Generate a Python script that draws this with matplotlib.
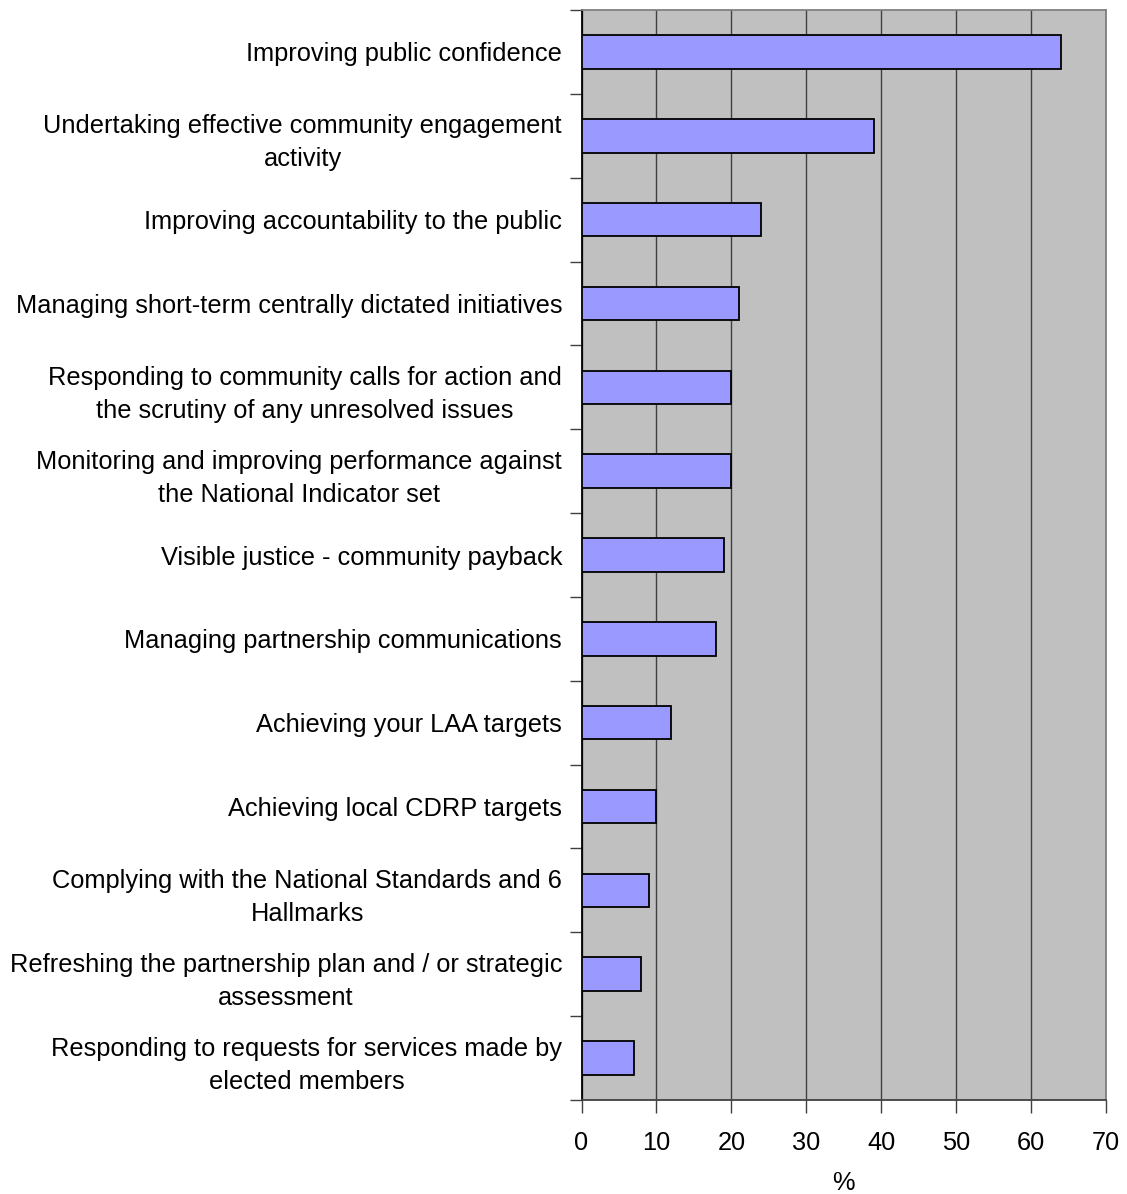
import numpy as np
import matplotlib
matplotlib.use('Agg')
import matplotlib.pyplot as plt
from matplotlib.ticker import FixedLocator, NullFormatter

CATEGORIES = [
    'Improving public confidence',
    'Undertaking effective community engagement\nactivity',
    'Improving accountability to the public',
    'Managing short-term centrally dictated initiatives',
    'Responding to community calls for action and\nthe scrutiny of any unresolved issues',
    'Monitoring and improving performance against\nthe National Indicator set',
    'Visible justice - community payback',
    'Managing partnership communications',
    'Achieving your LAA targets',
    'Achieving local CDRP targets',
    'Complying with the National Standards and 6\nHallmarks',
    'Refreshing the partnership plan and / or strategic\nassessment',
    'Responding to requests for services made by\nelected members',
]
VALUES = [64, 39, 24, 21, 20, 20, 19, 18, 12, 10, 9, 8, 7]
X_TICKS = [0, 10, 20, 30, 40, 50, 60, 70]

BAR_COLOR = '#9999ff'
BG = '#c0c0c0'
FS = 18.3

plt.rcParams['font.family'] = ['Liberation Sans', 'DejaVu Sans']

fig = plt.figure(figsize=(11.27, 11.94), dpi=100)
ax = fig.add_axes([0.516, 0.0787, 0.4654, 0.9129])
ax.set_facecolor(BG)

n = len(CATEGORIES)
y = np.arange(n)
ax.barh(y, VALUES, height=0.4, color=BAR_COLOR, edgecolor='black', linewidth=1.3, zorder=3)

ax.set_xlim(0, 70)
ax.set_ylim(n - 0.5, -0.5)

ax.set_xticks(X_TICKS)
ax.set_xticklabels([str(t) for t in X_TICKS], fontsize=FS)
ax.xaxis.grid(True, color='#404040', linewidth=1.0, zorder=1)

# category labels centered, tick marks on boundaries
ax.set_yticks(y)
ax.set_yticklabels(CATEGORIES, fontsize=FS, ha='right', multialignment='center',
                   linespacing=1.48)
ax.tick_params(axis='y', length=0, pad=14)
ax.yaxis.set_minor_locator(FixedLocator(np.arange(-0.5, n, 1.0)))
ax.yaxis.set_minor_formatter(NullFormatter())
ax.tick_params(axis='y', which='minor', length=9, width=1, color='#404040')
ax.tick_params(axis='x', length=9, width=1, color='#404040', pad=13)

for side in ['top', 'right']:
    ax.spines[side].set_color('#808080')
    ax.spines[side].set_linewidth(1.3)
ax.spines['left'].set_color('black')
ax.spines['left'].set_linewidth(1.3)
ax.spines['bottom'].set_color('#404040')
ax.spines['bottom'].set_linewidth(1.3)

ax.set_xlabel('%', fontsize=FS, labelpad=12)

fig.savefig('out.png', dpi=100, facecolor='white')
